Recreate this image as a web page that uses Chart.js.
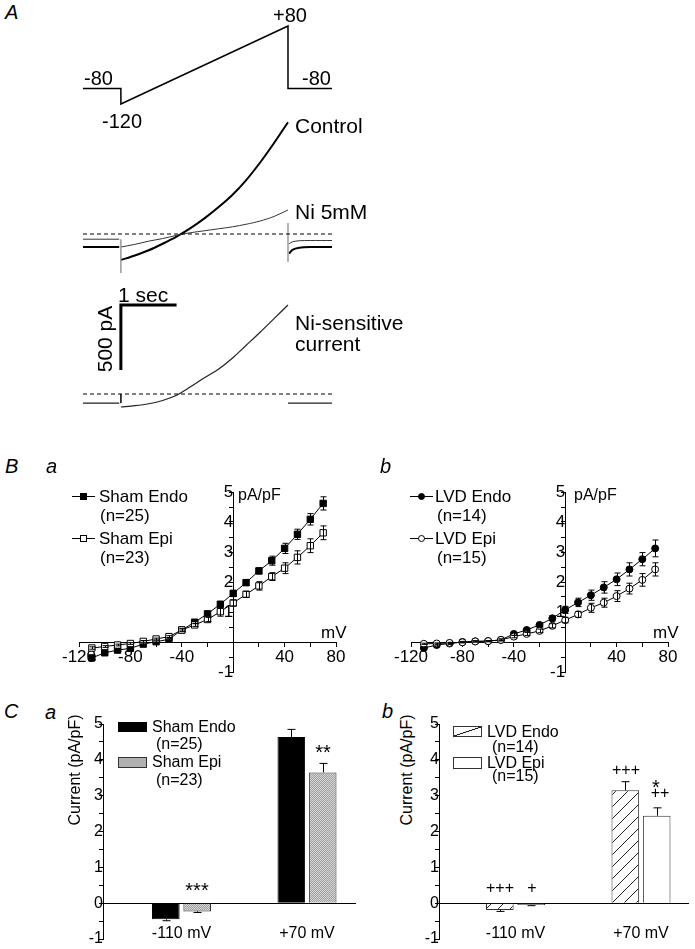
<!DOCTYPE html>
<html>
<head>
<meta charset="utf-8">
<script src="https://cdn.jsdelivr.net/npm/chart.js@4.4.0/dist/chart.umd.min.js"></script>
<style>
  body { margin: 0; width: 695px; height: 949px; position: relative; overflow: hidden; background: #fff;
         font-family: "Liberation Sans", Arial, sans-serif; }
  canvas { position: absolute; }
  .t { position: absolute; white-space: nowrap; line-height: 1; color: #000; }
  .sym { position: absolute; box-sizing: border-box; }
</style>
</head>
<body>
<script>
// ---- panel A: voltage protocol (s, mV)
const protoT = [-0.68, 0, 0, 3, 3, 3.79];
const protoV = [-80, -80, -120, 80, -80, -80];

// ---- panel A: current traces (s, pA)
const rampT = [0, 0.25, 0.5, 0.75, 1, 1.25, 1.5, 1.75, 2, 2.25, 2.5, 2.75, 3];
const controlI = [-200, -165, -125, -75, -20, 45, 120, 205, 300, 415, 550, 700, 860];
const niI = [-100, -80, -55, -35, -10, 10, 25, 40, 55, 75, 100, 135, 185];
const niSensI = [-100, -90, -75, -50, -10, 55, 125, 190, 275, 375, 475, 580, 685];
const holdT = [-0.68, -0.03];
const tailT = [3.02, 3.08, 3.2, 3.4, 3.79];
const controlHold = [-100, -100];
const controlTail = [-150, -122, -106, -100, -100];
const niHold = [-40, -40];
const niTail = [-75, -60, -52, -50, -50];
const niSensHold = [-70, -70];
const niSensTail = [-70, -70];

// ---- panel B: I-V relations (mV, pA/pF)
const mvSteps = [-110, -100, -90, -80, -70, -60, -50, -40, -30, -20, -10, 0, 10, 20, 30, 40, 50, 60, 70];
const shamEndoIV = [-0.53, -0.36, -0.27, -0.21, -0.07, 0.01, 0.09, 0.40, 0.66, 0.94, 1.26, 1.62, 1.98, 2.37, 2.71, 3.12, 3.59, 4.09, 4.62];
const shamEndoIVErr = [0.05, 0.04, 0.04, 0.04, 0.03, 0.03, 0.03, 0.04, 0.05, 0.07, 0.08, 0.1, 0.1, 0.1, 0.15, 0.17, 0.17, 0.19, 0.22];
const shamEpiIV = [-0.2, -0.15, -0.1, -0.05, 0.02, 0.1, 0.18, 0.40, 0.57, 0.75, 1.01, 1.30, 1.59, 1.87, 2.18, 2.46, 2.82, 3.21, 3.64];
const shamEpiIVErr = [0.04, 0.03, 0.03, 0.03, 0.03, 0.03, 0.03, 0.04, 0.05, 0.07, 0.15, 0.1, 0.1, 0.14, 0.13, 0.18, 0.22, 0.23, 0.23];
const lvdEndoIV = [-0.2, -0.1, -0.05, 0.0, 0.02, 0.03, 0.07, 0.27, 0.40, 0.57, 0.79, 1.07, 1.32, 1.56, 1.82, 2.09, 2.42, 2.76, 3.12];
const lvdEndoIVErr = [0.04, 0.03, 0.03, 0.02, 0.02, 0.02, 0.03, 0.05, 0.06, 0.07, 0.09, 0.12, 0.14, 0.17, 0.19, 0.21, 0.22, 0.22, 0.28];
const lvdEpiIV = [-0.06, -0.05, -0.03, -0.01, 0.02, 0.03, 0.07, 0.18, 0.27, 0.37, 0.54, 0.73, 0.92, 1.14, 1.31, 1.53, 1.78, 2.07, 2.42];
const lvdEpiIVErr = [0.02, 0.02, 0.02, 0.02, 0.02, 0.02, 0.03, 0.04, 0.05, 0.06, 0.07, 0.09, 0.1, 0.15, 0.15, 0.18, 0.18, 0.21, 0.22];

// ---- panel C: bars at -110 and +70 mV (pA/pF)
const barGroups = ['-110 mV', '+70 mV'];
const shamEndoBar = [-0.45, 4.64];
const shamEndoBarErr = [0.04, 0.21];
const shamEpiBar = [-0.23, 3.65];
const shamEpiBarErr = [0.03, 0.25];
const lvdEndoBar = [-0.19, 3.15];
const lvdEndoBarErr = [0.04, 0.24];
const lvdEpiBar = [-0.05, 2.44];
const lvdEpiBarErr = [0.02, 0.22];

Chart.defaults.font.family = '"Liberation Sans", Arial, sans-serif';
Chart.defaults.color = '#000';
Chart.defaults.animation = false;
Chart.defaults.plugins.legend.display = false;
Chart.defaults.plugins.tooltip.enabled = false;

const xy = (xs, ys) => xs.map((x, i) => ({ x, y: ys[i] }));
// keep tick labels from shrinking the chart area
const noPad = s => { s.paddingLeft = 0; s.paddingRight = 0; s.paddingTop = 0; s.paddingBottom = 0; };

// canvas whose chart area is exactly (left, top, w, h); pad = uniform number
function area(left, top, w, h, pad) {
  const c = document.createElement('canvas');
  c.width = w + 2 * pad; c.height = h + 2 * pad;
  c.style.left = (left - pad) + 'px'; c.style.top = (top - pad) + 'px';
  document.body.appendChild(c);
  return c;
}

function text(str, x, y, size, opt = {}) {
  const d = document.createElement('div');
  d.className = 't';
  d.textContent = str;
  d.style.left = x + 'px'; d.style.top = y + 'px'; d.style.fontSize = size + 'px';
  const ax = opt.align === 'center' ? '-50%' : '0';
  d.style.transform = `translate(${ax}, -50%)` + (opt.rotate ? ` rotate(${opt.rotate}deg)` : '');
  if (opt.italic) d.style.fontStyle = 'italic';
  document.body.appendChild(d);
}

function sym(x, y, w, h, css) {
  const d = document.createElement('div');
  d.className = 'sym';
  d.style.left = x + 'px'; d.style.top = y + 'px'; d.style.width = w + 'px'; d.style.height = h + 'px';
  Object.assign(d.style, css);
  document.body.appendChild(d);
}

// error bars, drawn with the chart's own y scale
const errorBars = {
  id: 'errorBars',
  afterDatasetsDraw(chart, args, opts) {
    const { ctx } = chart;
    const ys = chart.scales.y;
    chart.data.datasets.forEach((ds, di) => {
      if (!ds.errors) return;
      const meta = chart.getDatasetMeta(di);
      ctx.save();
      ctx.strokeStyle = '#000';
      ctx.lineWidth = 1;
      meta.data.forEach((el, i) => {
        const v = ds.data[i].y, e = ds.errors[i];
        const x = Math.round(el.x) + 0.5;
        let a, b;
        if (ds.oneSided) {
          a = ys.getPixelForValue(v);
          b = ys.getPixelForValue(v >= 0 ? v + e : v - e);
        } else {
          a = ys.getPixelForValue(v - e);
          b = ys.getPixelForValue(v + e);
        }
        const cap = opts.cap || 3;
        ctx.beginPath();
        ctx.moveTo(x, a); ctx.lineTo(x, b);
        ctx.moveTo(x - cap, b); ctx.lineTo(x + cap, b);
        if (!ds.oneSided) { ctx.moveTo(x - cap, a); ctx.lineTo(x + cap, a); }
        ctx.stroke();
      });
      ctx.restore();
    });
  }
};

// ================= PANEL A =================
const tMin = -0.68, tMax = 3.79;
function traceSet(xs, ys, w, color, extra = {}) {
  return Object.assign({ data: xy(xs, ys), borderColor: color, borderWidth: w, pointRadius: 0,
                         tension: 0.3, fill: false, clip: 8 }, extra);
}
function traceOpts(yMin, yMax) {
  return {
    responsive: false,
    layout: { padding: 8 },
    scales: {
      x: { type: 'linear', display: false, min: tMin, max: tMax },
      y: { type: 'linear', display: false, min: yMin, max: yMax }
    }
  };
}

new Chart(area(83, 26, 249, 78, 8), {
  type: 'line',
  data: { datasets: [traceSet(protoT, protoV, 1.5, '#000', { tension: 0 })] },
  options: traceOpts(-120, 80)
});

new Chart(area(83, 104, 249, 182, 8), {
  type: 'line',
  data: {
    datasets: [
      traceSet([tMin, tMax], [0, 0], 1, '#000', { borderDash: [4, 3], tension: 0 }),
      traceSet([0, 0], [-40, -300], 1.5, '#9a9a9a', { tension: 0 }),
      traceSet([3, 3], [85, -215], 1.5, '#9a9a9a', { tension: 0 }),
      traceSet(holdT, niHold, 1, '#333', { tension: 0 }),
      traceSet(rampT, niI, 1, '#333'),
      traceSet(tailT, niTail, 1, '#333'),
      traceSet(holdT, controlHold, 2, '#000', { tension: 0 }),
      traceSet(rampT, controlI, 2, '#000'),
      traceSet(tailT, controlTail, 2, '#000')
    ]
  },
  options: traceOpts(-400, 1000)
});

new Chart(area(83, 290, 249, 143, 8), {
  type: 'line',
  data: {
    datasets: [
      traceSet([tMin, tMax], [0, 0], 1, '#000', { borderDash: [4, 3], tension: 0 }),
      traceSet(holdT, niSensHold, 1.2, '#222', { tension: 0 }),
      traceSet([0, 0], [0, -70], 1, '#222', { tension: 0 }),
      traceSet(rampT, niSensI, 1.2, '#222'),
      traceSet([3, tMax], niSensTail, 1.2, '#222', { tension: 0 }),
      // scale bars: 1 s and 500 pA
      traceSet([0, 0, 1], [185, 685, 685], 3, '#000', { tension: 0 })
    ]
  },
  options: traceOpts(-300, 800)
});

text('A', 5, 12, 20, { italic: true });
text('+80', 290, 15, 20, { align: 'center' });
text('-80', 84, 78, 20);
text('-80', 302, 78, 20);
text('-120', 102, 121, 20);
text('Control', 295, 125, 21);
text('Ni 5mM', 295, 211, 21);
text('1 sec', 118, 294, 21);
text('500 pA', 104, 339, 21, { align: 'center', rotate: -90 });
text('Ni-sensitive', 295, 322, 21);
text('current', 295, 343, 21);

// ================= PANEL B =================
function ivScales() {
  return {
    x: {
      type: 'linear', min: -120, max: 80, position: { y: 0 }, afterFit: noPad,
      border: { color: '#000', width: 1 },
      grid: { drawOnChartArea: false, tickLength: 4, color: '#000' },
      ticks: { stepSize: 20, autoSkip: false, maxRotation: 0, padding: 1, font: { size: 17 },
               callback: v => (v % 40 === 0 && v !== 0) ? v : '' }
    },
    y: {
      type: 'linear', min: -1, max: 5, position: { x: 0 }, afterFit: noPad,
      border: { color: '#000', width: 1 },
      grid: { drawOnChartArea: false, tickLength: 4, color: '#000' },
      ticks: { stepSize: 0.5, autoSkip: false, padding: 2, font: { size: 17 },
               callback: v => (Number.isInteger(v) && v !== 0) ? v : '' }
    }
  };
}
function ivSet(ys, errs, style, filled, r) {
  return {
    data: xy(mvSteps, ys), errors: errs,
    borderColor: '#000', borderWidth: 1,
    pointStyle: style, pointRadius: r, pointBorderWidth: 1,
    pointBackgroundColor: filled ? '#000' : '#fff', pointBorderColor: '#000',
    tension: 0, fill: false, clip: false
  };
}

new Chart(area(79, 492, 257, 180, 22), {
  type: 'line',
  data: { datasets: [
    ivSet(shamEpiIV, shamEpiIVErr, 'rect', false, 4.5),
    ivSet(shamEndoIV, shamEndoIVErr, 'rect', true, 4.5)
  ] },
  options: { responsive: false, layout: { padding: 22 }, scales: ivScales(),
             plugins: { errorBars: { cap: 3 } } },
  plugins: [errorBars]
});

new Chart(area(411, 492, 257, 180, 20), {
  type: 'line',
  data: { datasets: [
    ivSet(lvdEpiIV, lvdEpiIVErr, 'circle', false, 3.5),
    ivSet(lvdEndoIV, lvdEndoIVErr, 'circle', true, 3.5)
  ] },
  options: { responsive: false, layout: { padding: 20 }, scales: ivScales(),
             plugins: { errorBars: { cap: 3 } } },
  plugins: [errorBars]
});

text('B', 5, 466, 20, { italic: true });
text('a', 46, 466, 20, { italic: true });
text('b', 380, 466, 20, { italic: true });
text('pA/pF', 238, 495, 16);
text('mV', 321, 632, 17);
text('pA/pF', 574, 495, 16);
text('mV', 653, 632, 17);

// B legends
function ivKey(x0, y, filled, round) {
  sym(x0, y, 23, 1, { background: '#000' });
  sym(x0 + 8, y - 3, 7, 7, { background: filled ? '#000' : '#fff', border: '1px solid #000',
                             borderRadius: round ? '50%' : '0' });
}
ivKey(72, 496, true, false);
ivKey(72, 538, false, false);
text('Sham Endo', 99, 496, 17);
text('(n=25)', 100, 515, 17);
text('Sham Epi', 99, 538, 17);
text('(n=23)', 100, 557, 17);
ivKey(410, 496, true, true);
ivKey(410, 538, false, true);
text('LVD Endo', 435, 496, 17);
text('(n=14)', 437, 515, 17);
text('LVD Epi', 435, 538, 17);
text('(n=15)', 437, 557, 17);

// ================= PANEL C =================
function pattern(size, draw) {
  const c = document.createElement('canvas');
  c.width = size; c.height = size;
  draw(c.getContext('2d'), size);
  return c.getContext('2d').createPattern(c, 'repeat');
}
const dotGray = pattern(2, (g) => {
  g.fillStyle = '#d6d6d6'; g.fillRect(0, 0, 2, 2);
  g.fillStyle = '#a0a0a0'; g.fillRect(0, 0, 1, 1); g.fillRect(1, 1, 1, 1);
});
const hatch = pattern(12, (g, s) => {
  g.fillStyle = '#fff'; g.fillRect(0, 0, s, s);
  g.strokeStyle = '#222'; g.lineWidth = 1;
  g.beginPath();
  g.moveTo(0, s); g.lineTo(s, 0);
  g.moveTo(-s / 2, s / 2); g.lineTo(s / 2, -s / 2);
  g.moveTo(s / 2, s * 1.5); g.lineTo(s * 1.5, s / 2);
  g.stroke();
});

const groupX = [1, 2];
function barScales(xMin, xMax) {
  return {
    x: {
      type: 'linear', min: xMin, max: xMax, offset: false, position: { y: 0 }, afterFit: noPad,
      border: { color: '#000', width: 1 },
      grid: { display: true, offset: false, drawOnChartArea: false, drawTicks: false },
      afterBuildTicks: s => { s.ticks = groupX.map(v => ({ value: v })); },
      ticks: { padding: 21, font: { size: 16 }, maxRotation: 0, autoSkip: false,
               callback: v => barGroups[groupX.indexOf(v)] }
    },
    y: {
      type: 'linear', min: -1, max: 5, position: { x: xMin }, afterFit: noPad,
      border: { color: '#000', width: 1 },
      grid: { drawOnChartArea: false, tickLength: 4, color: '#000' },
      ticks: { stepSize: 0.5, autoSkip: false, padding: 2, font: { size: 16 },
               callback: v => Number.isInteger(v) ? v : '' }
    }
  };
}
function barSet(vals, errs, fill, border) {
  return { data: xy(groupX, vals), errors: errs, oneSided: true,
           backgroundColor: fill, borderColor: border, borderWidth: 1,
           categoryPercentage: 0.5, barPercentage: 0.88 };
}

// Ca: y axis at 103, groups at 181.5 and 307 px (125.5 px per group)
new Chart(area(103, 724, 252, 215, 22), {
  type: 'bar',
  data: { datasets: [
    barSet(shamEndoBar, shamEndoBarErr, '#000', '#000'),
    barSet(shamEpiBar, shamEpiBarErr, dotGray, '#333')
  ] },
  options: { responsive: false, layout: { padding: 22 },
             scales: barScales(1 - 78.5 / 125.5, 2 + 48 / 125.5),
             plugins: { errorBars: { cap: 4 } } },
  plugins: [errorBars]
});

// Cb: y axis at 439, groups at 515.5 and 641 px (canvas may run past the page edge)
new Chart(area(439, 724, 249, 215, 22), {
  type: 'bar',
  data: { datasets: [
    barSet(lvdEndoBar, lvdEndoBarErr, hatch, '#333'),
    barSet(lvdEpiBar, lvdEpiBarErr, '#fff', '#333')
  ] },
  options: { responsive: false, layout: { padding: 22 },
             scales: barScales(1 - 76.5 / 125.5, 2 + 47 / 125.5),
             plugins: { errorBars: { cap: 4 } } },
  plugins: [errorBars]
});

text('C', 4, 711, 20, { italic: true });
text('a', 45, 712, 20, { italic: true });
text('b', 382, 711, 20, { italic: true });
text('Current (pA/pF)', 75, 770, 16, { align: 'center', rotate: -90 });
text('Current (pA/pF)', 407, 770, 16, { align: 'center', rotate: -90 });

// C legends
sym(118, 722, 29, 10, { background: '#000' });
sym(118, 757, 29, 11, { backgroundColor: '#d2d2d2', border: '1px solid #333',
                        backgroundImage: 'radial-gradient(#8a8a8a 0.6px, transparent 0.8px)', backgroundSize: '2px 2px' });
text('Sham Endo', 152, 727, 16);
text('(n=25)', 156, 744, 16);
text('Sham Epi', 152, 762, 16);
text('(n=23)', 156, 780, 16);
sym(453, 726, 29, 11, { background: 'linear-gradient(to bottom right, #fff 46%, #222 48%, #222 52%, #fff 54%)', border: '1px solid #333' });
sym(453, 757, 29, 12, { background: '#fff', border: '1px solid #333' });
text('LVD Endo', 487, 732, 16);
text('(n=14)', 492, 747, 16);
text('LVD Epi', 487, 763, 16);
text('(n=15)', 492, 776, 16);

// significance marks
text('***', 197, 890, 20, { align: 'center' });
text('**', 323, 752, 20, { align: 'center' });
text('+++', 500, 888, 16, { align: 'center' });
text('+', 532, 888, 16, { align: 'center' });
text('+++', 626, 770, 16, { align: 'center' });
text('*', 656, 787, 20, { align: 'center' });
text('++', 660, 793, 16, { align: 'center' });
</script>
</body>
</html>
